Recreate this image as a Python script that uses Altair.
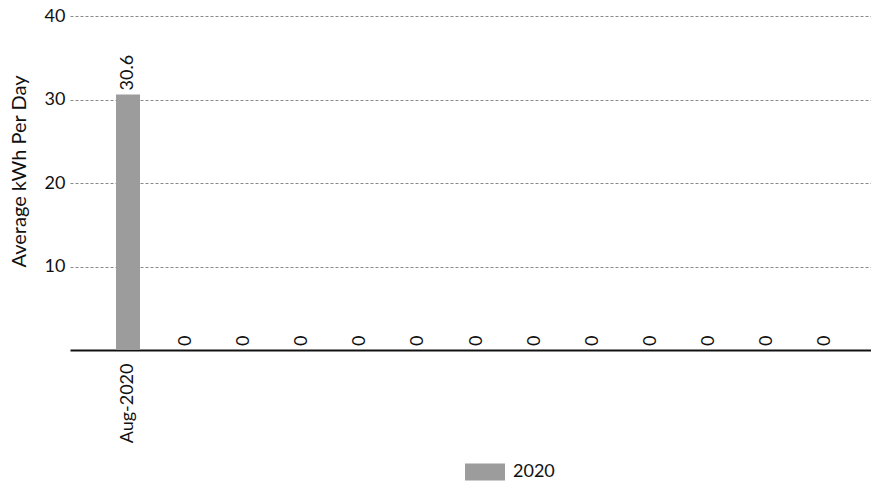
import altair as alt
import pandas as pd

# ---- data ----
months = ["Aug-2020", "Sep-2020", "Oct-2020", "Nov-2020", "Dec-2020", "Jan-2021",
          "Feb-2021", "Mar-2021", "Apr-2021", "May-2021", "Jun-2021", "Jul-2021", "Aug-2021"]
values = [30.6, 0, 0, 0, 0, 0, 0, 0, 0, 0, 0, 0, 0]
value_labels = ["30.6", "0", "0", "0", "0", "0", "0", "0", "0", "0", "0", "0", "0"]
tick_labels = ["Aug-2020", "", "", "", "", "", "", "", "", "", "", "", ""]
series = ["2020"] * len(months)
y_ticks = [10, 20, 30, 40]

df = pd.DataFrame({"month": months, "kwh": values, "label": value_labels, "series": series})

label_expr = "''"
for m, t in zip(reversed(months), reversed(tick_labels)):
    label_expr = f"datum.value == '{m}' ? '{t}' : ({label_expr})"

FONT = "Lato"
TXT = "#111111"
BAR = "#9c9c9c"

x = alt.X(
    "month:N", sort=months,
    scale=alt.Scale(paddingInner=0.587, paddingOuter=0.689, align=0.575),
    axis=alt.Axis(title=None, labelAngle=270, labelExpr=label_expr, ticks=False,
                  labelPadding=13, domainColor=TXT, domainWidth=2, grid=False,
                  labelFont=FONT, labelFontSize=18, labelColor=TXT),
)
y = alt.Y(
    "kwh:Q",
    scale=alt.Scale(domain=[0, 40], nice=False),
    axis=alt.Axis(title="Average kWh Per Day", values=y_ticks, ticks=False, domain=False,
                  labelPadding=5, gridDash=[3, 2], gridColor="#8a8a8a", gridWidth=1,
                  titleX=-51, titleY=155, titleAngle=270, titleBaseline="middle",
                  titleAlign="center", titleFont=FONT, titleFontSize=20,
                  titleFontWeight="normal", titleColor=TXT,
                  labelFont=FONT, labelFontSize=18, labelColor=TXT),
)

rect_path = "M-1,-0.425L1,-0.425L1,0.425L-1,0.425Z"

bars = alt.Chart(df).mark_bar().encode(
    x=x, y=y,
    color=alt.Color("series:N", scale=alt.Scale(domain=["2020"], range=[BAR]),
                    legend=alt.Legend(title=None, orient="none", legendX=395, legendY=436,
                                      symbolType=rect_path, symbolSize=1600,
                                      symbolStrokeWidth=0, symbolOpacity=1,
                                      labelFont=FONT, labelFontSize=18, labelColor=TXT,
                                      labelOffset=8)),
)

texts = alt.Chart(df).mark_text(angle=270, align="left", baseline="middle", dx=4,
                                font=FONT, fontSize=18, color=TXT).encode(
    x=alt.X("month:N", sort=months), y=alt.Y("kwh:Q"), text="label:N")

chart = alt.layer(bars, texts).properties(
    width=801, height=334,
    autosize=alt.AutoSizeParams(type="none"),
    padding={"left": 62, "top": 8, "right": 0, "bottom": 134},
    background="white",
).configure_view(stroke=None)

chart.save("out.html", embed_options={"renderer": "svg", "actions": False})
